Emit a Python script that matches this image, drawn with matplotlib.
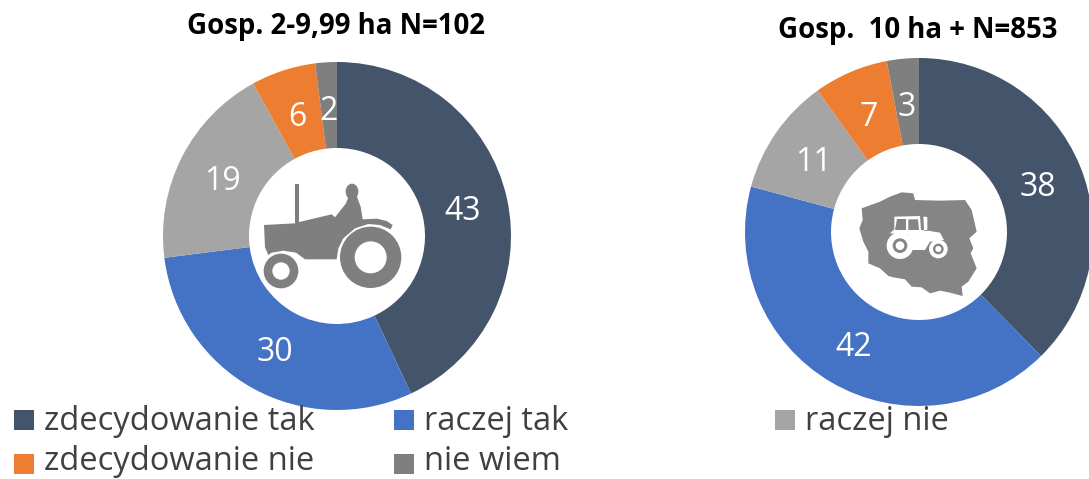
import matplotlib
matplotlib.use("Agg")
import matplotlib.pyplot as plt
from matplotlib.patches import Circle, Ellipse, Polygon, Rectangle

plt.rcParams['font.family'] = ['Open Sans', 'DejaVu Sans']

categories = ['zdecydowanie tak', 'raczej tak', 'raczej nie', 'zdecydowanie nie', 'nie wiem']
colors = ['#44546A', '#4472C4', '#A5A5A5', '#ED7D31', '#7F7F7F']
small_farms = [43, 30, 19, 6, 2]
large_farms = [38, 42, 11, 7, 3]
title_small = 'Gosp. 2-9,99 ha N=102'
title_large = 'Gosp.  10 ha + N=853'

W, H = 1089, 479
ICON = '#7F7F7F'

fig = plt.figure(figsize=(W / 100, H / 100), dpi=100)
ax = fig.add_axes([0, 0, 1, 1])


# y w pikselach liczone od gory, jak na obrazku
def yy(y):
    return H - y


def donut(values, cx, cy, r, hole):
    wedges, texts = ax.pie(values, labels=[str(v) for v in values], colors=colors,
                           center=(cx, yy(cy)), radius=r, startangle=90, counterclock=False,
                           labeldistance=0.74, frame=True,
                           wedgeprops={'width': r - hole, 'linewidth': 0},
                           textprops={'color': 'white', 'fontsize': 23})
    for t in texts:
        t.set_ha('center')
        t.set_va('center')
        t.set_y(t.get_position()[1] - 4)


donut(small_farms, 337, 236, 174, 88)
donut(large_farms, 919, 232, 174, 88)

ax.set_xlim(0, W)
ax.set_ylim(0, H)
ax.set_aspect('auto')
ax.axis('off')


def zoom_pts(pts, x0, y0):
    return [(x0 + x / 3, yy(y0 + y / 3)) for x, y in pts]


def circle(x, y, r, color, x0, y0):
    ax.add_patch(Circle((x0 + x / 3, yy(y0 + y / 3)), r / 3, fc=color, ec='none', zorder=5))


# traktor w lewym kole
tx, ty = 240, 160
body = [(72, 195), (165, 190), (178, 186), (275, 163), (285, 172), (318, 130), (325, 112),
        (350, 108), (362, 140), (368, 178), (410, 176), (440, 183), (458, 195), (452, 208),
        (420, 195), (385, 192), (345, 205), (310, 235), (295, 265), (290, 298), (195, 298),
        (168, 278), (130, 272), (95, 278), (85, 285), (75, 262)]
ax.add_patch(Polygon(zoom_pts(body, tx, ty), fc=ICON, ec='none', zorder=5))
ax.add_patch(Polygon(zoom_pts([(165, 72), (176, 72), (176, 190), (165, 190)], tx, ty), fc=ICON, ec='none', zorder=5))
ax.add_patch(Ellipse((tx + 336 / 3, yy(ty + 95 / 3)), 38 / 3, 48 / 3, fc=ICON, ec='none', zorder=5))
circle(392, 292, 92, ICON, tx, ty)
circle(392, 292, 48, 'white', tx, ty)
circle(123, 333, 52, ICON, tx, ty)
circle(123, 333, 26, 'white', tx, ty)

# mapa Polski z traktorem w prawym kole
px, py = 840, 170
poland = [(65, 115), (120, 95), (150, 80), (185, 67), (220, 70), (225, 90), (300, 92), (375, 90),
          (395, 120), (410, 185), (388, 205), (400, 235), (392, 250), (410, 295), (385, 335),
          (365, 350), (368, 378), (330, 368), (300, 362), (270, 370), (245, 352), (215, 350),
          (195, 328), (160, 322), (145, 318), (120, 295), (85, 280), (85, 245), (70, 215),
          (58, 175), (68, 150)]
ax.add_patch(Polygon(zoom_pts(poland, px, py), fc='#858585', ec='none', zorder=5))
tractor2 = [(163, 140), (240, 138), (243, 180), (262, 182), (262, 142), (258, 140), (250, 140),
            (252, 180), (300, 188), (312, 210), (270, 215), (255, 240), (215, 240), (205, 195),
            (150, 190), (163, 178)]
ax.add_patch(Polygon(zoom_pts(tractor2, px, py), fc='white', ec='none', zorder=6))
for win in ([(170, 148), (198, 148), (198, 180), (165, 180)], [(205, 148), (234, 148), (237, 180), (205, 180)]):
    ax.add_patch(Polygon(zoom_pts(win, px, py), fc='#858585', ec='none', zorder=7))
for x, y, r, c in [(180, 227, 40, 'white'), (180, 227, 22, '#858585'), (180, 227, 13, 'white'),
                   (295, 237, 28, 'white'), (295, 237, 16, '#858585'), (295, 237, 9, 'white')]:
    ax.add_patch(Circle((px + x / 3, yy(py + y / 3)), r / 3, fc=c, ec='none', zorder=8))

ax.text(336, yy(26), title_small, ha='center', va='center', fontsize=19.9, fontweight='bold', color='black')
ax.text(918, yy(30), title_large, ha='center', va='center', fontsize=19.9, fontweight='bold', color='black')

# legenda
leg_x = [14, 394, 775, 14, 394]
leg_y = [420, 420, 420, 464, 464]
text_y = [421, 421, 421, 461, 461]
for name, col, lx, ly, ty2 in zip(categories, colors, leg_x, leg_y, text_y):
    ax.add_patch(Rectangle((lx, yy(ly + 10)), 20, 20, fc=col, ec='none', zorder=6))
    ax.text(lx + 30, yy(ty2), name, ha='left', va='center', fontsize=23.5, color='#404040', zorder=6)

fig.savefig('out.png', dpi=100)
